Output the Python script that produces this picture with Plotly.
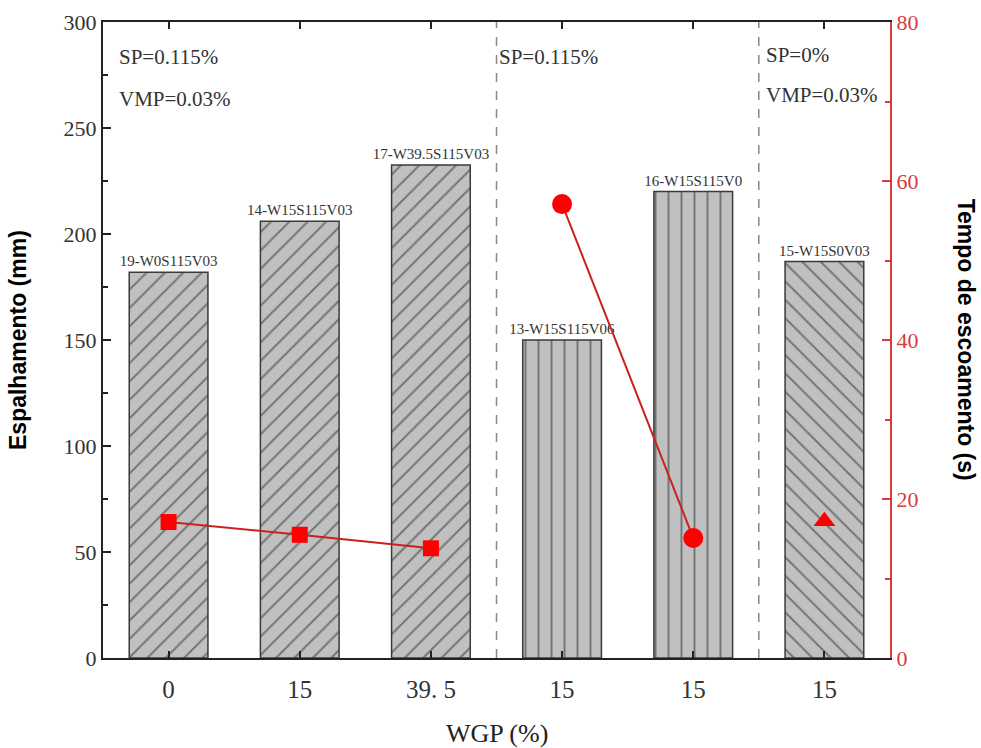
import plotly.graph_objects as go

# ---- data ----
x_pos = [0, 1, 2, 3, 4, 5]
tick_labels = ["0", "15", "39. 5", "15", "15", "15"]
spread = [182, 206, 232.5, 150, 220, 187]
bar_labels = ["19-W0S115V03", "14-W15S115V03", "17-W39.5S115V03",
              "13-W15S115V06", "16-W15S115V0", "15-W15S0V03"]
bar_patterns = ["/", "/", "/", "|", "|", "\\"]

sq_x = [0, 1, 2]
sq_t = [17.1, 15.5, 13.8]
ci_x = [3, 4]
ci_t = [57.1, 15.1]
tr_x = [5]
tr_t = [17.2]

separators = [2.5, 4.5]

serif = "Liberation Serif, Times New Roman, serif"
sans = "Liberation Sans, Arial, sans-serif"
red = "#d93a3a"

fig = go.Figure()

fig.add_trace(go.Bar(
    x=x_pos, y=spread, width=0.6,
    marker=dict(color="#c0c0c0",
                line=dict(color="#3a3a3a", width=1.5),
                pattern=dict(shape=bar_patterns, fgcolor="#2a2a2a",
                             bgcolor="#c0c0c0", size=13, solidity=0.15)),
    text=bar_labels, textposition="outside", constraintext="none",
    textfont=dict(family=serif, size=15, color="#333"),
    cliponaxis=False, showlegend=False, yaxis="y"))

fig.add_trace(go.Scatter(
    x=sq_x, y=sq_t, mode="lines+markers", yaxis="y2",
    line=dict(color="#cc2020", width=2),
    marker=dict(symbol="square", size=16, color="#ff0000"), showlegend=False))
fig.add_trace(go.Scatter(
    x=ci_x, y=ci_t, mode="lines+markers", yaxis="y2",
    line=dict(color="#cc2020", width=2),
    marker=dict(symbol="circle", size=20, color="#ff0000"), showlegend=False))
fig.add_trace(go.Scatter(
    x=tr_x, y=tr_t, mode="markers", yaxis="y2",
    marker=dict(symbol="triangle-up", size=19, color="#ff0000"), showlegend=False))

shapes = []
for s in separators:
    shapes.append(dict(type="line", xref="x", yref="paper", x0=s, x1=s, y0=0, y1=1,
                       line=dict(color="#888", width=1.5, dash="dash")))

txt_font = dict(family=serif, size=21, color="#333")
annotations = [
    dict(text="SP=0.115%", x=0.018, y=0.945, xref="paper", yref="paper",
         xanchor="left", yanchor="middle", showarrow=False, font=txt_font),
    dict(text="VMP=0.03%", x=0.018, y=0.879, xref="paper", yref="paper",
         xanchor="left", yanchor="middle", showarrow=False, font=txt_font),
    dict(text="SP=0.115%", x=0.5, y=0.945, xref="paper", yref="paper",
         xanchor="left", yanchor="middle", showarrow=False, font=txt_font),
    dict(text="SP=0%", x=0.84, y=0.948, xref="paper", yref="paper",
         xanchor="left", yanchor="middle", showarrow=False, font=txt_font),
    dict(text="VMP=0.03%", x=0.84, y=0.885, xref="paper", yref="paper",
         xanchor="left", yanchor="middle", showarrow=False, font=txt_font),
    dict(text="<b>Espalhamento (mm)</b>", x=-0.108, y=0.5, xref="paper", yref="paper",
         textangle=-90, showarrow=False, xanchor="center", yanchor="middle",
         font=dict(family=sans, size=23, color="#000")),
    dict(text="<b>Tempo de escoamento (s)</b>", x=1.097, y=0.5, xref="paper", yref="paper",
         textangle=90, showarrow=False, xanchor="center", yanchor="middle",
         font=dict(family=sans, size=23, color="#000")),
    dict(text="WGP (%)", x=0.5, y=-0.118, xref="paper", yref="paper",
         showarrow=False, xanchor="center", yanchor="middle",
         font=dict(family=serif, size=26, color="#222")),
]

fig.update_layout(
    width=981, height=748,
    margin=dict(l=103, r=91, t=22, b=90),
    paper_bgcolor="white", plot_bgcolor="white",
    shapes=shapes, annotations=annotations,
    xaxis=dict(range=[-0.5, 5.5], tickvals=x_pos, ticktext=tick_labels,
               showline=True, linecolor="#222", linewidth=2, mirror="ticks",
               ticks="inside", ticklen=7, tickwidth=2, tickcolor="#222",
               showgrid=False, zeroline=False, ticklabelstandoff=8, automargin=False,
               tickfont=dict(family=serif, size=25, color="#333")),
    yaxis=dict(range=[0, 300], dtick=50, showline=True, linecolor="#222", linewidth=2,
               ticks="inside", ticklen=8, tickwidth=2, tickcolor="#222",
               minor=dict(dtick=25, ticks="inside", ticklen=5, tickwidth=1.5, tickcolor="#222"),
               showgrid=False, zeroline=False, automargin=False,
               tickfont=dict(family=serif, size=22, color="#333")),
    yaxis2=dict(range=[0, 80], dtick=20, overlaying="y", side="right",
                showline=True, linecolor=red, linewidth=2,
                ticks="inside", ticklen=8, tickwidth=2, tickcolor=red,
                minor=dict(dtick=10, ticks="inside", ticklen=5, tickwidth=1.5, tickcolor=red),
                showgrid=False, zeroline=False, automargin=False,
                tickfont=dict(family=serif, size=22, color=red)),
    bargap=0.4,
)

fig.write_html("out.html")
